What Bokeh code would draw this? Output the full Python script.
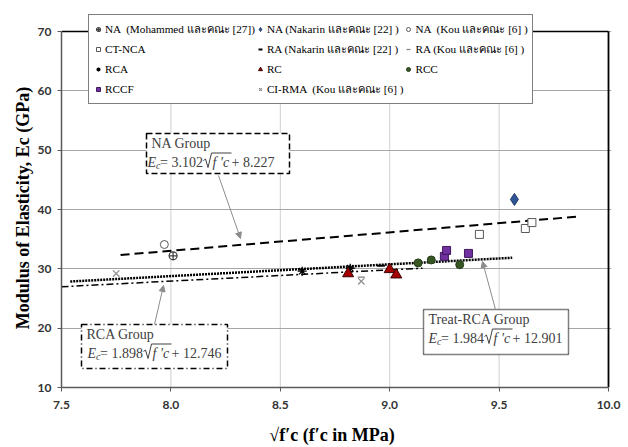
import math
import numpy as np
from bokeh.plotting import figure
from bokeh.models import (FixedTicker, NumeralTickFormatter, Legend, LegendItem, Label,
                          Arrow, NormalHead, BoxAnnotation)
from bokeh.embed import file_html
from bokeh.resources import INLINE

# ---------------- data ----------------
na_moh_x = [8.01]; na_moh_y = [32.2]
na_nak_x = [9.57]; na_nak_y = [41.7]
na_kou_x = [7.97]; na_kou_y = [34.1]
ct_nca_x = [9.41, 9.62, 9.65]; ct_nca_y = [35.8, 36.8, 37.8]
ra_nak_x = [8.96]; ra_nak_y = [30.5]
ra_kou_x = [8.87]; ra_kou_y = [28.6]
rca_x = [8.60, 8.82]; rca_y = [29.6, 30.1]
rc_x = [8.81, 9.00, 9.03]; rc_y = [29.2, 29.9, 29.0]
rcc_x = [9.13, 9.19, 9.32]; rcc_y = [31.0, 31.5, 30.7]
rccf_x = [9.25, 9.26, 9.36]; rccf_y = [32.1, 33.1, 32.6]
ci_rma_x = [7.75, 8.87]; ci_rma_y = [29.2, 27.9]

fit_names = ["NA Group", "RCA Group", "Treat-RCA Group"]
fit_slope = [3.102, 1.898, 1.984]
fit_icpt = [8.227, 12.746, 12.901]
fit_x0 = [7.77, 7.50, 7.54]
fit_x1 = [9.86, 9.15, 9.56]

x_ticks = [7.5, 8.0, 8.5, 9.0, 9.5, 10.0]
y_ticks = [10, 20, 30, 40, 50, 60, 70]

# ---------------- layout helpers (reference pixel -> data) ----------------
W, H = 628, 447
AL, AR, AT, AB = 61, 608, 31, 387      # axes box in pixels
FT, FR = 1, 611                         # frame extends above/right of the axes box
def px(X):
    return x_ticks[0] + (X - AL) * (x_ticks[-1] - x_ticks[0]) / (AR - AL)
def py(Y):
    return y_ticks[-1] - (Y - AT) * (y_ticks[-1] - y_ticks[0]) / (AB - AT)

SERIF = "Liberation Serif"

p = figure(width=W, height=H, x_range=(x_ticks[0], px(FR)), y_range=(y_ticks[0], py(FT)),
           output_backend="svg", toolbar_location=None,
           min_border_left=AL, min_border_right=W - FR, min_border_top=FT,
           min_border_bottom=H - AB)
p.background_fill_color = "white"
p.border_fill_color = "white"
p.outline_line_color = None

for ax in (p.xaxis[0], p.yaxis[0]):
    ax.axis_line_color = "#595959"
    ax.axis_line_width = 1.5
    ax.major_tick_line_color = "#595959"
    ax.major_tick_out = 4
    ax.major_tick_in = 0
    ax.minor_tick_out = 0
    ax.minor_tick_in = 0
    ax.major_label_text_font = "Lato"
    ax.major_label_text_font_style = "bold"
    ax.major_label_text_font_size = "12px"
    ax.major_label_text_color = "#333333"
    ax.axis_label_text_font = SERIF
    ax.axis_label_text_font_style = "bold"
    ax.axis_label_text_font_size = "18px"
    ax.axis_label_text_color = "black"

p.xaxis.ticker = FixedTicker(ticks=x_ticks)
p.yaxis.ticker = FixedTicker(ticks=y_ticks)
p.xaxis.bounds = (x_ticks[0], x_ticks[-1])
p.yaxis.bounds = (y_ticks[0], y_ticks[-1])
p.xaxis.formatter = NumeralTickFormatter(format="0.0")
p.xaxis.major_label_standoff = 9
p.yaxis.major_label_standoff = 6
p.xaxis.axis_label = "√f′c (f′c in MPa)\u00a0\u00a0"
# trailing no-break spaces shift the centred title down to the axes box centre
p.yaxis.axis_label = "Modulus of Elasticity, Ec (GPa)" + "\u00a0" * 6
p.xaxis.axis_label_standoff = 13
p.yaxis.axis_label_standoff = 2

p.ygrid.grid_line_color = "#a6a6a6"
p.ygrid.grid_line_width = 1
p.xgrid.visible = False
# vertical dotted grid lines limited to the axes box
vg = x_ticks[1:-1]
p.segment(x0=vg, y0=[y_ticks[0]] * len(vg), x1=vg, y1=[y_ticks[-1]] * len(vg),
          line_color="#a0a0a0", line_dash="1 1", line_width=1, level="underlay")

# top and right border of the axes box
p.line([x_ticks[0], x_ticks[-1]], [y_ticks[-1], y_ticks[-1]], line_color="black", line_width=1.5)
p.line([x_ticks[-1], x_ticks[-1]], [y_ticks[0], y_ticks[-1]], line_color="black", line_width=1.8)

# ---------------- fit lines ----------------
dashes = ["9 5", "7 3 2 3", "2 1"]
widths = [2, 1.5, 2.5]
for s, b, x0, x1, d, w in zip(fit_slope, fit_icpt, fit_x0, fit_x1, dashes, widths):
    xs = np.array([x0, x1])
    p.line(xs, s * xs + b, line_color="black", line_dash=d, line_width=w)

# ---------------- series ----------------
r_na_moh = p.scatter(na_moh_x, na_moh_y, marker="circle_cross", size=8,
                     fill_color="white", line_color="#404040", line_width=1.2)
r_na_nak = p.scatter(na_nak_x, na_nak_y, marker="diamond", size=12,
                     fill_color="#2f5597", line_color="#1f3864")
r_na_kou = p.scatter(na_kou_x, na_kou_y, marker="circle", size=8,
                     fill_color="white", line_color="#595959")
r_ct = p.scatter(ct_nca_x, ct_nca_y, marker="square", size=8,
                 fill_color="white", line_color="#595959")
r_ra_nak = p.scatter(ra_nak_x, ra_nak_y, marker="dash", size=8,
                     line_color="black", line_width=2)
r_ra_kou = p.scatter(ra_kou_x, ra_kou_y, marker="dash", size=7,
                     line_color="#7f7f7f", line_width=1.2)
r_rca = p.scatter(rca_x, rca_y, marker="asterisk", size=9,
                  line_color="black", line_width=1.3)
r_rc = p.scatter(rc_x, rc_y, marker="triangle", size=11,
                 fill_color="#a50000", line_color="#3a0000")
r_rcc = p.scatter(rcc_x, rcc_y, marker="circle", size=8,
                  fill_color="#375623", line_color="#263c18")
r_rccf = p.scatter(rccf_x, rccf_y, marker="square", size=8,
                   fill_color="#7030a0", line_color="#3f1a5c")
r_ci = p.scatter(ci_rma_x, ci_rma_y, marker="x", size=9,
                 line_color="#8c8c8c", line_width=1.2)

items = [
    LegendItem(label="NA  (Mohammed และคณะ [27])", renderers=[r_na_moh]),
    LegendItem(label="NA (Nakarin และคณะ [22] )", renderers=[r_na_nak]),
    LegendItem(label="NA  (Kou และคณะ [6] )", renderers=[r_na_kou]),
    LegendItem(label="CT-NCA", renderers=[r_ct]),
    LegendItem(label="RA (Nakarin และคณะ [22] )", renderers=[r_ra_nak]),
    LegendItem(label="RA (Kou และคณะ [6] )", renderers=[r_ra_kou]),
    LegendItem(label="RCA", renderers=[r_rca]),
    LegendItem(label="RC", renderers=[r_rc]),
    LegendItem(label="RCC", renderers=[r_rcc]),
    LegendItem(label="RCCF", renderers=[r_rccf]),
    LegendItem(label="CI-RMA  (Kou และคณะ [6] )", renderers=[r_ci]),
]
legend = Legend(items=items, orientation="horizontal", ncols=3, location=(27, AB - 104))
legend.label_text_font = SERIF
legend.label_text_font_size = "11.2px"
legend.label_text_color = "black"
legend.label_height = 20
legend.glyph_height = 20
legend.glyph_width = 10
legend.label_standoff = 2
legend.spacing = 0
legend.padding = 4
legend.margin = 0
legend.border_line_color = "black"
legend.border_line_width = 1.5
legend.background_fill_alpha = 1
p.add_layout(legend)

# ---------------- callout boxes ----------------
boxes = [
    (146, 289, 133, 173, "6 3"),
    (81, 227, 324, 368, "6 3 1 3"),
    (423, 568, 309, 354, "1 1"),
]
for l, r, t, b, d in boxes:
    p.add_layout(BoxAnnotation(left=px(l), right=px(r), top=py(t), bottom=py(b),
                               fill_color="white", fill_alpha=1, line_color="black",
                               line_alpha=1, line_dash=d, line_width=1.5, level="overlay"))

arrows = [((218, 175), (240, 238)), ((154, 324), (163, 285)), ((495, 309), (482, 261))]
for (xs, ys), (xe, ye) in arrows:
    p.add_layout(Arrow(x_start=px(xs), y_start=py(ys), x_end=px(xe), y_end=py(ye),
                       line_color="#8c8c8c", line_width=1,
                       end=NormalHead(size=6, fill_color="#8c8c8c", line_color="#8c8c8c"),
                       level="overlay"))

TXT = "#404040"
def lab(X, Y, text, size="14px", style="normal", color=TXT):
    # labels render a few pixels below their anchor; lift them to the reference baseline
    p.add_layout(Label(x=px(X), y=py(Y - 3), text=text, text_font=SERIF, text_font_size=size,
                       text_font_style=style, text_color=color, text_baseline="alphabetic",
                       level="overlay"))

def seg(X0, Y0, X1, Y1, color, width):
    p.add_layout(Arrow(x_start=px(X0), y_start=py(Y0), x_end=px(X1), y_end=py(Y1), end=None,
                       line_color=color, line_width=width, level="overlay"))

def radical(X, Yb, length, color, width):
    pts = [(X, Yb - 5), (X + 2, Yb - 6.5), (X + 4.5, Yb + 2), (X + 8, Yb - 12.5), (X + 8 + length, Yb - 12.5)]
    for (a0, b0), (a1, b1) in zip(pts[:-1], pts[1:]):
        seg(a0, b0, a1, b1, color, width)

def equation(X0, Yb, a, b):
    lab(X0, Yb, "E", style="italic")
    lab(X0 + 8.5, Yb + 3, "c", size="10px", style="italic")
    lab(X0 + 12.5, Yb, "= %.3f" % a)
    radical(X0 + 56, Yb, 20, TXT, 1)
    lab(X0 + 65, Yb, "f ′c", style="italic")
    lab(X0 + 84, Yb, " + %.3f" % b)

title_pos = [(151, 146), (86, 337), (428, 322)]
eq_pos = [(147, 165), (87, 356), (428, 341)]
for name, (tx, ty), (ex, ey), a, b in zip(fit_names, title_pos, eq_pos, fit_slope, fit_icpt):
    lab(tx, ty, name)
    equation(ex, ey, a, b)

open("out.html", "w").write(file_html(p, INLINE))
